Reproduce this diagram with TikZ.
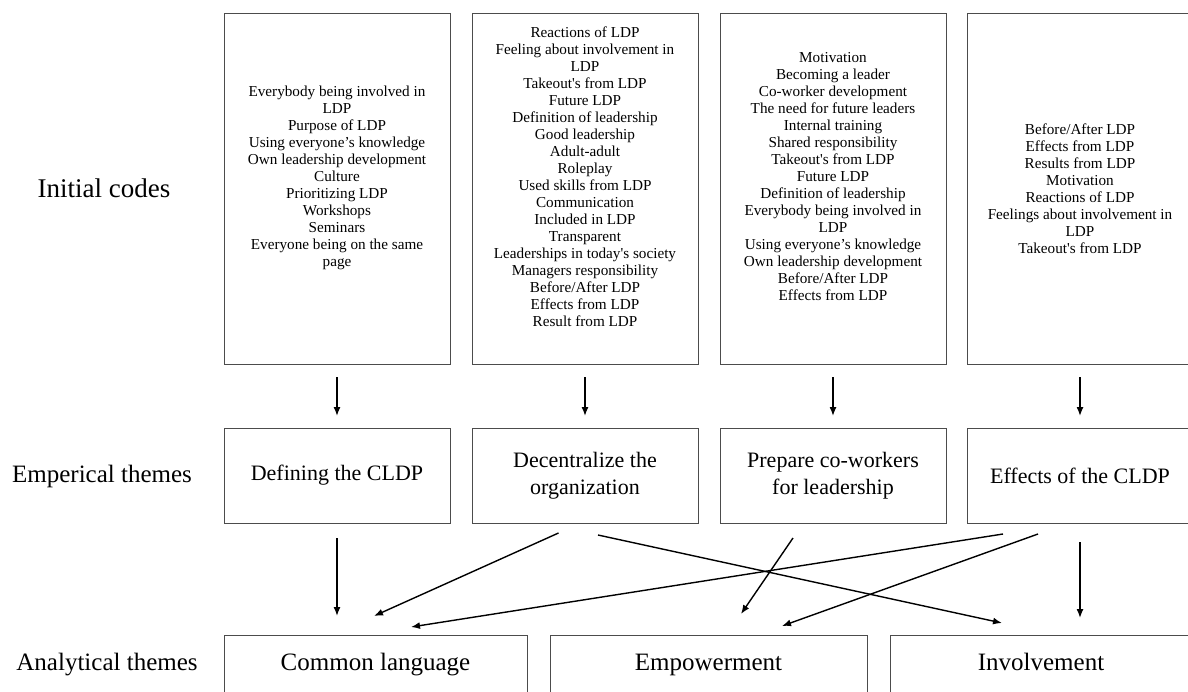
\documentclass[tikz,border=0pt]{standalone}
\usepackage{fontspec}
\setmainfont{Liberation Serif}
\usetikzlibrary{arrows.meta,positioning}

\begin{document}
\begin{tikzpicture}[
  x=1pt, y=-1pt,
  node distance=64pt and 22pt,
  codes/.style={draw=black!70, line width=0.9pt, minimum width=226pt, minimum height=351pt, inner sep=0pt, outer sep=0pt, align=center, font=\fontsize{15.2}{17}\selectfont},
  theme/.style={draw=black!70, line width=0.9pt, minimum width=226pt, minimum height=95pt, inner sep=0pt, outer sep=0pt, align=center, font=\fontsize{22}{27}\selectfont},
  analytic/.style={draw=black!70, line width=0.9pt, minimum height=60pt, inner sep=0pt, outer sep=0pt, text height=17pt, text depth=5.5pt, align=center, font=\fontsize{25}{30}\selectfont},
  rowlabel/.style={inner sep=0pt, font=\fontsize{25}{30}\selectfont},
  arrow/.style={-{Latex[length=9pt,width=7pt]}, line width=1.4pt}
]
\useasboundingbox (0,0) rectangle (1188,691);

% row labels
\node[rowlabel, font=\fontsize{27}{32}\selectfont] (labcodes) at (104,188) {Initial codes};
\node[rowlabel] (labemp) at (102,476) {Emperical themes};
\node[rowlabel] (labana) at (107,665) {Analytical themes};

% initial codes
\node[codes] (code1) at (337,188.5) {Everybody being involved in\\LDP\\Purpose of LDP\\Using everyone’s knowledge\\Own leadership development\\Culture\\Prioritizing LDP\\Workshops\\Seminars\\Everyone being on the same\\page\\[8pt]};
\node[codes, right=of code1] (code2) {Reactions of LDP\\Feeling about involvement in\\LDP\\Takeout\textquotesingle s from LDP\\Future LDP\\Definition of leadership\\Good leadership\\Adult-adult\\Roleplay\\Used skills from LDP\\Communication\\Included in LDP\\Transparent\\Leaderships in today\textquotesingle s society\\Managers responsibility\\Before/After LDP\\Effects from LDP\\Result from LDP\\[6pt]};
\node[codes, right=of code2] (code3) {Motivation\\Becoming a leader\\Co-worker development\\The need for future leaders\\Internal training\\Shared responsibility\\Takeout\textquotesingle s from LDP\\Future LDP\\Definition of leadership\\Everybody being involved in\\LDP\\Using everyone’s knowledge\\Own leadership development\\Before/After LDP\\Effects from LDP\\[8pt]};
\node[codes, right=21pt of code3] (code4) {Before/After LDP\\Effects from LDP\\Results from LDP\\Motivation\\Reactions of LDP\\Feelings about involvement in\\LDP\\Takeout\textquotesingle s from LDP};

% empirical themes
\node[theme, below=of code1] (theme1) {Defining the CLDP};
\node[theme, below=of code2] (theme2) {Decentralize the\\organization};
\node[theme, below=of code3] (theme3) {Prepare co-workers\\for leadership};
\node[theme, below=of code4] (theme4) {Effects of the CLDP};

% analytical themes
\node[analytic, minimum width=303pt] (comm) at (375.5,665) {Common language};
\node[analytic, minimum width=317pt] (empow) at (708.5,665) {Empowerment};
\node[analytic, minimum width=302pt] (invol) at (1041,665) {Involvement};

\foreach \i in {1,...,4}
  \draw[arrow] ([yshift=-13pt]code\i.south) -- ([yshift=12pt]theme\i.north);

\draw[arrow] ([yshift=-15pt]theme1.south) -- ([xshift=-38.5pt,yshift=19pt]comm.north);
\draw[arrow] ([xshift=-26.5pt,yshift=-10pt]theme2.south) -- ([xshift=-1.5pt,yshift=19pt]comm.north);
\draw[arrow] ([xshift=13pt,yshift=-12pt]theme2.south) -- ([xshift=-39pt,yshift=12pt]invol.north);
\draw[arrow] ([xshift=-40pt,yshift=-15pt]theme3.south) -- ([xshift=32.5pt,yshift=21pt]empow.north);
\draw[arrow] ([xshift=-77pt,yshift=-11pt]theme4.south) -- ([xshift=35.5pt,yshift=8pt]comm.north);
\draw[arrow] ([xshift=-42pt,yshift=-11pt]theme4.south) -- ([xshift=73.5pt,yshift=9pt]empow.north);
\draw[arrow] ([yshift=-19pt]theme4.south) -- ([xshift=39pt,yshift=17pt]invol.north);
\end{tikzpicture}
\end{document}
